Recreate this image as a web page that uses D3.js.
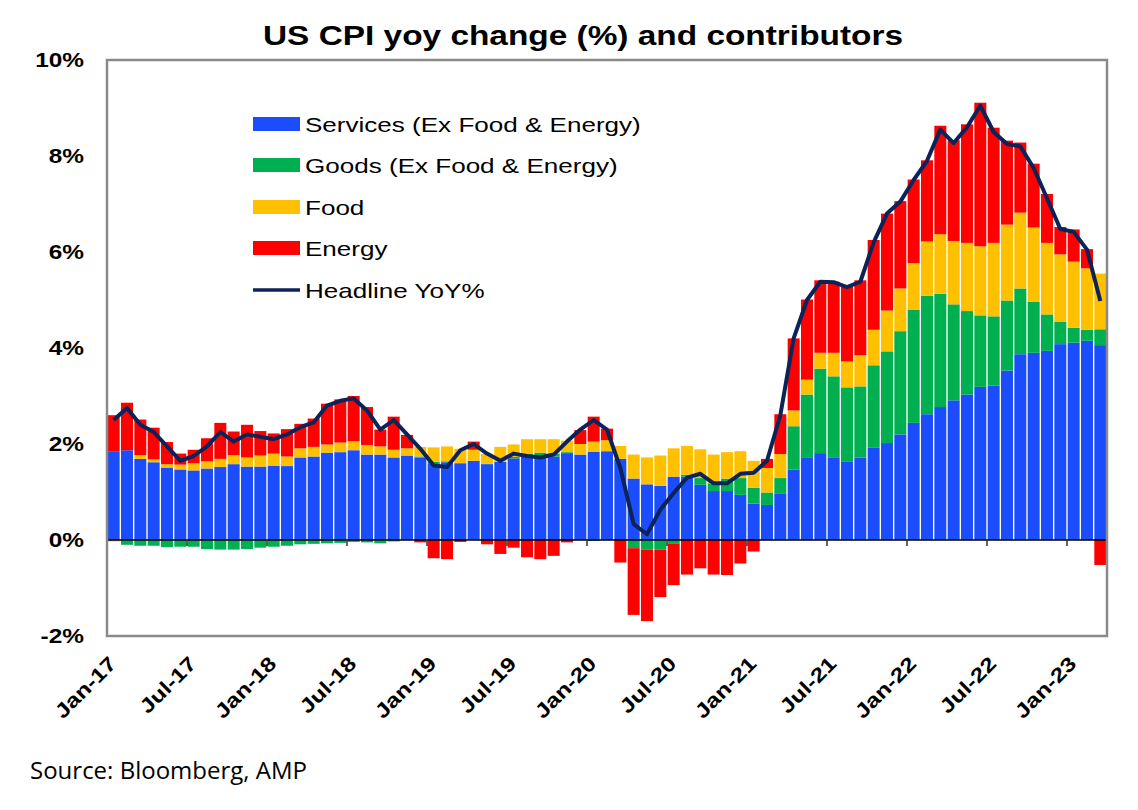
<!DOCTYPE html>
<html>
<head>
<meta charset="utf-8">
<script src="https://cdn.jsdelivr.net/npm/d3@7"></script>
<style>
  body { margin: 0; background: #fff; }
  text { font-family: "Liberation Sans", Arial, sans-serif; }
</style>
</head>
<body>
<svg id="chart" width="1138" height="810"></svg>
<script>
// US CPI yoy (%) split into contributors, monthly Jan-17 .. Mar-23
var width = 1138;
var height = 810;
var plot = { left: 107, right: 1107, top: 60, bottom: 636 };

var months = d3.timeMonths(new Date(2017, 0, 1), new Date(2023, 3, 1))
               .map(d3.timeFormat("%b-%y"));
var tickLabels = ["Jan-17", "Jul-17", "Jan-18", "Jul-18", "Jan-19", "Jul-19", "Jan-20",
                  "Jul-20", "Jan-21", "Jul-21", "Jan-22", "Jul-22", "Jan-23"];
var yTicks = [-2, 0, 2, 4, 6, 8, 10];

var services = [1.85, 1.87, 1.69, 1.62, 1.51, 1.47, 1.45, 1.49, 1.52, 1.58, 1.53, 1.53,
                1.55, 1.54, 1.72, 1.74, 1.82, 1.83, 1.87, 1.78, 1.78, 1.72, 1.76, 1.72,
                1.60, 1.62, 1.60, 1.65, 1.58, 1.63, 1.70, 1.74, 1.74, 1.74, 1.81, 1.78,
                1.84, 1.85, 1.69, 1.28, 1.16, 1.13, 1.32, 1.32, 1.15, 1.02, 1.02, 0.94,
                0.76, 0.73, 0.96, 1.47, 1.71, 1.81, 1.71, 1.64, 1.72, 1.92, 2.02, 2.20,
                2.44, 2.62, 2.77, 2.91, 3.03, 3.19, 3.22, 3.53, 3.87, 3.90, 3.94, 4.08,
                4.11, 4.15, 4.06];
var goods = [0.00, -0.10, -0.12, -0.12, -0.15, -0.14, -0.14, -0.19, -0.20, -0.20, -0.19, -0.16,
             -0.14, -0.12, -0.09, -0.08, -0.07, -0.06, -0.04, -0.05, -0.07, -0.03, 0.00, 0.02,
             0.03, 0.02, 0.00, 0.00, 0.01, 0.00, 0.03, 0.06, 0.08, 0.06, 0.02, 0.00,
             -0.02, 0.00, 0.00, -0.17, -0.20, -0.20, -0.07, 0.04, 0.14, 0.16, 0.26, 0.35,
             0.33, 0.26, 0.33, 0.90, 1.32, 1.76, 1.70, 1.54, 1.48, 1.72, 1.91, 2.15,
             2.36, 2.47, 2.36, 2.00, 1.74, 1.49, 1.44, 1.46, 1.37, 1.06, 0.76, 0.47,
             0.31, 0.23, 0.33];
var food = [-0.03, 0.00, 0.08, 0.06, 0.07, 0.10, 0.15, 0.15, 0.17, 0.19, 0.19, 0.23,
            0.25, 0.20, 0.19, 0.20, 0.17, 0.20, 0.19, 0.20, 0.17, 0.16, 0.15, 0.20,
            0.30, 0.31, 0.30, 0.23, 0.20, 0.31, 0.26, 0.30, 0.28, 0.30, 0.24, 0.22,
            0.21, 0.23, 0.27, 0.50, 0.56, 0.63, 0.59, 0.60, 0.60, 0.60, 0.55, 0.56,
            0.56, 0.51, 0.50, 0.33, 0.31, 0.33, 0.49, 0.54, 0.65, 0.74, 0.85, 0.89,
            0.97, 1.13, 1.24, 1.32, 1.42, 1.44, 1.53, 1.58, 1.58, 1.55, 1.49, 1.40,
            1.38, 1.28, 1.16];
var energy = [0.75, 0.99, 0.74, 0.66, 0.46, 0.23, 0.28, 0.48, 0.75, 0.49, 0.68, 0.51,
              0.42, 0.57, 0.51, 0.59, 0.85, 0.90, 0.94, 0.79, 0.35, 0.69, 0.28, -0.05,
              -0.38, -0.40, -0.04, 0.17, -0.09, -0.29, -0.16, -0.36, -0.40, -0.33, -0.05, 0.29,
              0.52, 0.24, -0.47, -1.39, -1.49, -0.99, -0.87, -0.72, -0.59, -0.72, -0.73, -0.49,
              -0.24, 0.19, 0.83, 1.50, 1.67, 1.51, 1.48, 1.56, 1.56, 1.87, 2.02, 1.82,
              1.74, 1.69, 2.26, 2.10, 2.47, 2.99, 2.40, 1.75, 1.46, 1.33, 1.02, 0.57,
              0.67, 0.40, -0.52];
var headline = [2.50, 2.75, 2.40, 2.25, 1.95, 1.65, 1.75, 1.95, 2.25, 2.05, 2.20, 2.15,
                2.10, 2.20, 2.35, 2.45, 2.80, 2.90, 2.95, 2.70, 2.30, 2.50, 2.20, 1.90,
                1.55, 1.52, 1.87, 2.00, 1.80, 1.65, 1.80, 1.75, 1.72, 1.78, 2.05, 2.30,
                2.50, 2.30, 1.50, 0.33, 0.12, 0.63, 0.98, 1.30, 1.38, 1.18, 1.18, 1.38,
                1.40, 1.65, 2.60, 4.20, 5.00, 5.38, 5.37, 5.27, 5.38, 6.20, 6.80, 7.05,
                7.50, 7.90, 8.55, 8.27, 8.60, 9.05, 8.50, 8.25, 8.20, 7.75, 7.12, 6.48,
                6.42, 6.05, 4.98];

var keys = ["services", "goods", "food", "energy"];
var seriesNames = ["Services (Ex Food & Energy)", "Goods (Ex Food & Energy)", "Food", "Energy"];
var seriesColors = ["#1c4dfd", "#00b050", "#ffc000", "#ff0000"];
var lineColor = "#0b2358";

var rows = months.map(function(m, i) {
    return { month: m, services: services[i], goods: goods[i], food: food[i], energy: energy[i] };
});

// the original picture is a little wider than tall, so texts get stretched sideways
function stretch(sel, k) {
    sel.each(function() {
        var w = this.getComputedTextLength();
        d3.select(this)
          .attr("textLength", w * k)
          .attr("lengthAdjust", "spacingAndGlyphs");
    });
}

var svg = d3.select("#chart");

var x = d3.scaleBand()
    .domain(months)
    .range([plot.left, plot.right])
    .paddingInner(0.1)
    .paddingOuter(0.05);

var y = d3.scaleLinear()
    .domain([-2, 10])
    .range([plot.bottom, plot.top]);

var color = d3.scaleOrdinal().domain(keys).range(seriesColors);

var stacked = d3.stack()
    .keys(keys)
    .offset(d3.stackOffsetDiverging)(rows);

// bars
svg.append("g")
  .selectAll("g")
  .data(stacked)
  .enter()
  .append("g")
    .attr("fill", function(d) { return color(d.key); })
  .selectAll("rect")
  .data(function(d) { return d; })
  .enter()
  .append("rect")
    .attr("x", function(d) { return x(d.data.month); })
    .attr("width", x.bandwidth())
    .attr("y", function(d) { return y(d[1]); })
    .attr("height", function(d) { return Math.abs(y(d[0]) - y(d[1])); });

// zero line and ticks on it
svg.append("line")
    .attr("x1", plot.left).attr("x2", plot.right)
    .attr("y1", y(0)).attr("y2", y(0))
    .attr("stroke", "#000").attr("stroke-width", 1.5);

var step = x.step();
svg.append("g")
  .selectAll("line")
  .data(tickLabels)
  .enter()
  .append("line")
    .attr("x1", function(d) { return x(d) - step * 0.05; })
    .attr("x2", function(d) { return x(d) - step * 0.05; })
    .attr("y1", y(0))
    .attr("y2", y(0) + 6)
    .attr("stroke", "#333")
    .attr("stroke-width", 1.5);

// headline line
var line = d3.line()
    .x(function(d, i) { return x(months[i]) + x.bandwidth() / 2; })
    .y(function(d) { return y(d); });

svg.append("path")
    .datum(headline)
    .attr("d", line)
    .attr("fill", "none")
    .attr("stroke", lineColor)
    .attr("stroke-width", 4)
    .attr("stroke-linejoin", "round");

// plot frame
svg.append("rect")
    .attr("x", plot.left).attr("y", plot.top)
    .attr("width", plot.right - plot.left)
    .attr("height", plot.bottom - plot.top)
    .attr("fill", "none")
    .attr("stroke", "#8a8a8a")
    .attr("stroke-width", 2.5);

// y axis labels
var yAxis = d3.axisLeft(y)
    .tickValues(yTicks)
    .tickSize(0)
    .tickPadding(23)
    .tickFormat(function(d) { return d + "%"; });

svg.append("g")
    .attr("transform", "translate(" + plot.left + ",0)")
    .call(yAxis)
    .call(function(g) { g.select(".domain").remove(); })
    .selectAll("text")
    .style("font-family", "'Liberation Sans', Arial, sans-serif")
    .style("font-size", "20px")
    .style("font-weight", "bold")
    .attr("fill", "#000")
    .call(stretch, 1.22);

// x labels, rotated
svg.append("g")
  .selectAll("text")
  .data(tickLabels)
  .enter()
  .append("text")
    .text(function(d) { return d; })
    .attr("transform", function(d) {
        return "translate(" + (x(d) + x.bandwidth() / 2 + 4) + ",665) rotate(-45)";
    })
    .attr("text-anchor", "end")
    .style("font-size", "20px")
    .style("font-weight", "bold")
    .call(stretch, 1.22);

// title
svg.append("text")
    .attr("x", 583)
    .attr("y", 45)
    .attr("text-anchor", "middle")
    .style("font-size", "28px")
    .style("font-weight", "bold")
    .text("US CPI yoy change (%) and contributors")
    .attr("textLength", 640)
    .attr("lengthAdjust", "spacingAndGlyphs");

// legend
var legendY = [124, 165, 207, 248, 290];
var legend = svg.append("g");
legend.selectAll("rect")
  .data(seriesNames)
  .enter()
  .append("rect")
    .attr("x", 253)
    .attr("y", function(d, i) { return legendY[i] - 7; })
    .attr("width", 47)
    .attr("height", 14)
    .attr("fill", function(d, i) { return seriesColors[i]; });

legend.append("line")
    .attr("x1", 253).attr("x2", 300)
    .attr("y1", legendY[4]).attr("y2", legendY[4])
    .attr("stroke", lineColor)
    .attr("stroke-width", 3.5);

legend.selectAll("text")
  .data(seriesNames.concat(["Headline YoY%"]))
  .enter()
  .append("text")
    .attr("x", 305)
    .attr("y", function(d, i) { return legendY[i]; })
    .attr("dy", "0.36em")
    .style("font-size", "21px")
    .text(function(d) { return d; })
    .call(stretch, 1.24);

// source
svg.append("text")
    .attr("x", 30)
    .attr("y", 779)
    .style("font-family", "'Open Sans', sans-serif")
    .style("font-size", "24px")
    .text("Source: Bloomberg, AMP");
</script>
</body>
</html>
